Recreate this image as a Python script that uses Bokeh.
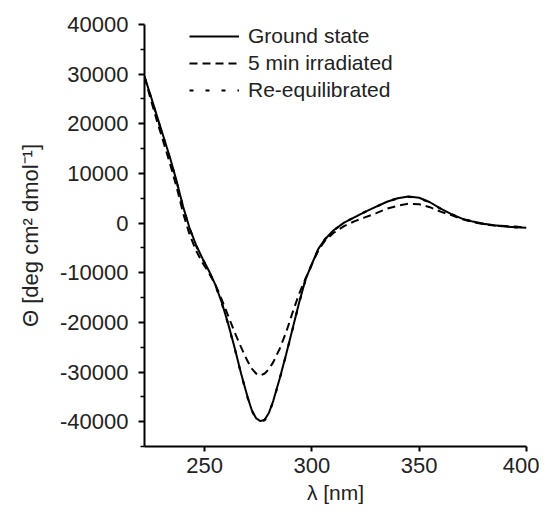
from bokeh.plotting import figure
from bokeh.models import Legend, LegendItem, FixedTicker, Range1d
from bokeh.embed import file_html
from bokeh.resources import INLINE

wavelength = [222, 225, 228, 231, 234, 237, 240, 243, 246, 249, 252, 255, 258, 261,
              264, 267, 270, 272, 274, 276, 278, 280, 282, 285, 288, 291, 294, 297,
              300, 303, 306, 310, 315, 320, 325, 330, 335, 340, 345, 350, 355, 360,
              365, 370, 375, 380, 385, 390, 395, 400]

ground_state = [29500, 25500, 21300, 17200, 13000, 8400, 3300, -1000, -4400, -7100,
                -9600, -12400, -16000, -20300, -25100, -30300, -35000, -37700, -39300,
                -39900, -39600, -38200, -35800, -31300, -26400, -21300, -16100, -11400,
                -8200, -5200, -3300, -1500, 100, 1200, 2300, 3300, 4300, 5000, 5350,
                5100, 4200, 2900, 1800, 900, 300, -150, -450, -700, -850, -950]

irradiated = [29500, 24800, 20300, 16100, 11800, 7200, 2000, -2300, -5500, -8000,
              -10000, -12400, -15400, -18700, -22000, -25000, -27800, -29300, -30300,
              -30700, -30300, -29400, -28000, -25300, -22000, -18000, -14300, -11200,
              -8300, -5500, -3600, -2000, -600, 400, 1200, 2000, 2900, 3500, 3900,
              3800, 3200, 2300, 1600, 800, 200, -200, -500, -600, -700, -950]

re_equilibrated = [29400, 25300, 21100, 17000, 12800, 8300, 3200, -1100, -4500, -7200,
                   -9700, -12500, -16100, -20400, -25200, -30400, -35100, -37800, -39400,
                   -40000, -39700, -38300, -35900, -31400, -26500, -21400, -16200, -11500,
                   -8300, -5300, -3300, -1500, 100, 1200, 2300, 3300, 4300, 5000, 5300,
                   5050, 4150, 2900, 1800, 900, 300, -150, -450, -700, -850, -950]

x_ticks = [250, 300, 350, 400]
y_ticks = [-40000, -30000, -20000, -10000, 0, 10000, 20000, 30000, 40000]
series_labels = ["Ground state", "5 min irradiated", "Re-equilibrated"]

FONT = "Liberation Sans"

p = figure(width=539, height=511, output_backend="svg", toolbar_location=None,
           x_range=Range1d(222, 400), y_range=Range1d(-45000, 40000),
           min_border_left=144, min_border_right=13, min_border_top=24,
           min_border_bottom=65)
p.outline_line_color = None
p.grid.visible = False
p.background_fill_color = "white"

r1 = p.line(wavelength, ground_state, line_color="black", line_width=2)
r2 = p.line(wavelength, irradiated, line_color="black", line_width=2, line_dash="8 5")
r3 = p.line(wavelength, re_equilibrated, line_color="black", line_width=2.2, line_dash="4 12")

xa = p.xaxis[0]
ya = p.yaxis[0]
xa.ticker = FixedTicker(ticks=x_ticks)
ya.ticker = FixedTicker(ticks=y_ticks, minor_ticks=[v - 5000 for v in y_ticks])
xa.major_label_overrides = {v: str(v) for v in x_ticks}
ya.major_label_overrides = {v: str(v) for v in y_ticks}
for ax in (xa, ya):
    ax.axis_line_color = "black"
    ax.axis_line_width = 2
    ax.major_tick_line_color = "black"
    ax.major_tick_line_width = 2
    ax.minor_tick_line_color = "black"
    ax.minor_tick_line_width = 1.5
    ax.major_tick_in = 0
    ax.minor_tick_in = 0
    ax.major_label_text_font = FONT
    ax.major_label_text_font_size = "22px"
    ax.major_label_text_color = "#222222"
    ax.axis_label_text_font = FONT
    ax.axis_label_text_font_size = "22px"
    ax.axis_label_text_font_style = "normal"
    ax.axis_label_text_color = "#222222"

xa.major_tick_out = 5
xa.minor_tick_out = 0
xa.major_label_standoff = 6
xa.axis_label = "λ [nm]"
xa.axis_label_standoff = 5
xa.axis_label_text_font_size = "21px"

ya.major_tick_out = 6
ya.minor_tick_out = 4
ya.major_label_standoff = 10
ya.axis_label = "Θ [deg cm² dmol⁻¹]"
ya.axis_label_standoff = 14

legend = Legend(items=[LegendItem(label=series_labels[0], renderers=[r1]),
                       LegendItem(label=series_labels[1], renderers=[r2]),
                       LegendItem(label=series_labels[2], renderers=[r3])],
                location=(45, 344), padding=0, margin=0, spacing=3,
                glyph_width=50, glyph_height=20, label_height=20,
                label_standoff=9, background_fill_alpha=0, border_line_color=None,
                label_text_font=FONT, label_text_font_size="21px",
                label_text_color="#222222")
p.add_layout(legend)

open("out.html", "w").write(file_html(p, INLINE))
